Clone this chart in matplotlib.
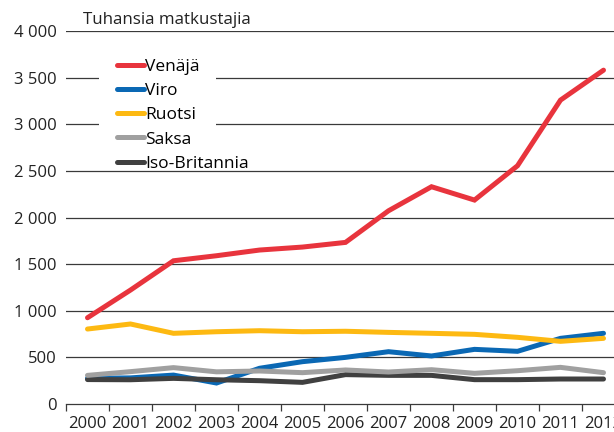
import numpy as np
import matplotlib
matplotlib.use('Agg')
import matplotlib.pyplot as plt
from matplotlib.patches import Rectangle
from matplotlib.ticker import FixedLocator, FuncFormatter

plt.rcParams['font.family'] = ['Open Sans', 'DejaVu Sans']

# Data (thousands of travellers)
years = [str(y) for y in range(2000, 2013)]
venaja = [925, 1222, 1536, 1590, 1651, 1683, 1733, 2072, 2330, 2187, 2555, 3259, 3580]
viro = [275, 280, 310, 225, 383, 454, 500, 561, 515, 586, 565, 704, 758]
ruotsi = [804, 858, 758, 775, 786, 775, 780, 768, 758, 747, 715, 672, 704]
saksa = [307, 347, 390, 345, 354, 336, 365, 343, 368, 329, 357, 393, 336]
iso_britannia = [262, 260, 275, 260, 250, 232, 315, 307, 307, 261, 261, 268, 268]

series = [
    ('Venäjä', venaja, '#e8343d', 5),
    ('Viro', viro, '#0a68b4', 2),
    ('Ruotsi', ruotsi, '#fdb912', 2.5),
    ('Saksa', saksa, '#a0a0a0', 3.5),
    ('Iso-Britannia', iso_britannia, '#404040', 3),
]

fig = plt.figure(figsize=(6.14, 4.32), dpi=100)
ax = fig.add_axes([66 / 614, 28 / 432, 559 / 614, 373 / 432])

x = np.arange(len(years))
handles = []
for name, vals, color, z in series:
    h, = ax.plot(x, vals, color=color, lw=3.6, solid_capstyle='round',
                 solid_joinstyle='miter', label=name, zorder=z)
    handles.append(h)

ax.set_xlim(-0.5, len(years) - 0.5)
ax.set_ylim(0, 4000)

grid_color = '#3a3a3a'
for v in range(500, 4001, 500):
    ax.axhline(v, color=grid_color, lw=0.9, zorder=1)

for s in ['left', 'right', 'top']:
    ax.spines[s].set_visible(False)
ax.spines['bottom'].set_color(grid_color)
ax.spines['bottom'].set_linewidth(0.9)

ax.set_yticks(range(0, 4001, 500))
ax.yaxis.set_major_formatter(FuncFormatter(lambda v, p: f'{int(v):,}'.replace(',', ' ')))
ax.tick_params(axis='y', length=0, pad=6.5, labelsize=12, colors='#222222')

ax.set_xticks(x)
ax.set_xticklabels(years)
ax.xaxis.set_minor_locator(FixedLocator(np.arange(-0.5, len(years), 1)))
ax.tick_params(axis='x', which='major', length=0, pad=8.5, labelsize=12, colors='#222222')
ax.tick_params(axis='x', which='minor', length=5, width=0.9, color=grid_color)

# white box behind legend
ax.add_patch(Rectangle((0.059, 0.68), 0.209, 0.24, transform=ax.transAxes,
                       facecolor='white', edgecolor='none', zorder=1.5))

ax.legend(handles=handles, loc='upper left', bbox_to_anchor=(117 / 614, 1 - 59 / 432),
          bbox_transform=fig.transFigure, frameon=False, fontsize=12.5,
          handlelength=1.55, handletextpad=0.05, labelspacing=0.46,
          borderpad=0, borderaxespad=0)

fig.text(83 / 614, 1 - 20 / 432, 'Tuhansia matkustajia', fontsize=12.2,
         va='center', ha='left', color='#222222')

fig.savefig('out.png', dpi=100)
